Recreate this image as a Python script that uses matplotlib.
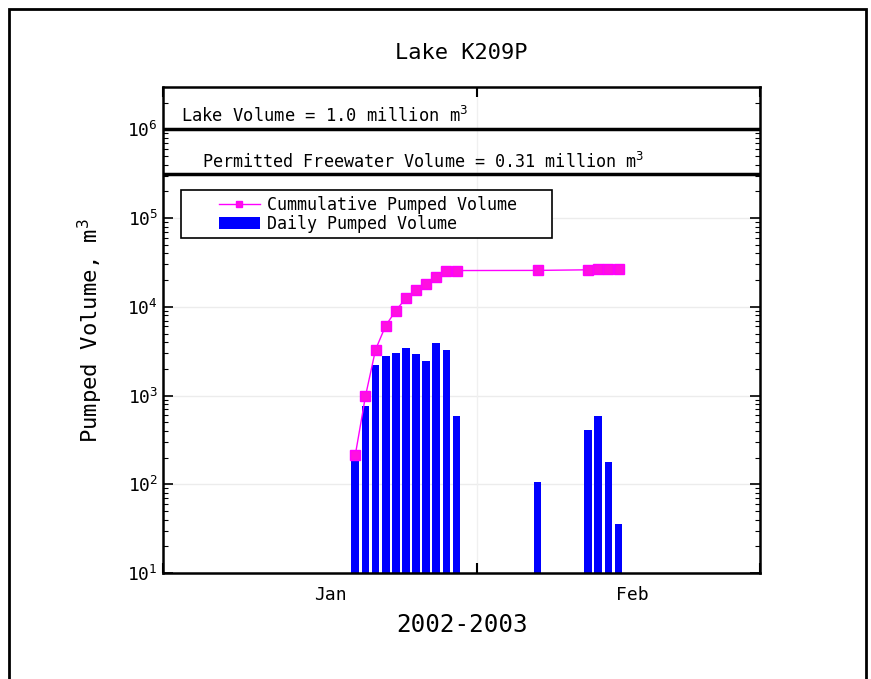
import numpy as np
import pandas as pd
import matplotlib
matplotlib.use("Agg")
import matplotlib.pyplot as plt
import matplotlib.dates as mdates
from matplotlib.patches import Rectangle

# ============================
# Pumping record, Lake K209P
# ============================
pump_dates = ["2003-01-20", "2003-01-21", "2003-01-22", "2003-01-23", "2003-01-24",
              "2003-01-25", "2003-01-26", "2003-01-27", "2003-01-28", "2003-01-29",
              "2003-01-30", "2003-02-07", "2003-02-12", "2003-02-13", "2003-02-14",
              "2003-02-15"]
daily_volume = [192, 754, 2230, 2760, 3020, 3440, 2940, 2470, 3870, 3290,
                596, 107, 408, 581, 179, 36]
cumulative_volume = [214, 977, 3290, 6130, 9060, 12500, 15400, 17900, 21800, 25000,
                     25600, 25700, 26100, 26700, 26850, 26900]

lake_volume = 1.0e6
permitted_volume = 0.31e6

month_labels = ["Jan", "Feb"]
month_label_dates = ["2003-01-17 12:00", "2003-02-16 09:00"]

dates = pd.to_datetime(pump_dates)
mono = "DejaVu Sans Mono"

fig = plt.figure(figsize=(8.71, 6.79), dpi=100)
ax = fig.add_axes([0.187, 0.156, 0.686, 0.716])

# outer frame around the page
fig.patches.append(Rectangle((0.010, -0.05), 0.984, 1.037, transform=fig.transFigure,
                             fill=False, edgecolor="black", linewidth=2.0))

ax.set_yscale("log")
ax.set_ylim(10, 3.0e6)
ax.set_xlim(pd.Timestamp("2003-01-01"), pd.Timestamp("2003-03-01"))

# faint grid
for v in [1e2, 1e3, 1e4, 1e5]:
    ax.axhline(v, color="#ececec", linewidth=1.0, zorder=0)
ax.axvline(pd.Timestamp("2003-02-01"), color="#f0f0f0", linewidth=1.0, zorder=0)

ax.bar(dates, daily_volume, width=0.76, color="#0000ff", edgecolor="none",
       label="Daily Pumped Volume", zorder=2)
ax.plot(dates, cumulative_volume, color="#ff00ff", linewidth=1.0, marker="s",
        markersize=6.5, markeredgecolor="#ff00ff", markerfacecolor="#ff10e0",
        label="Cummulative Pumped Volume", zorder=3)

# volume limits
ax.axhline(lake_volume, color="black", linewidth=2.5, zorder=4)
ax.axhline(permitted_volume, color="black", linewidth=2.5, zorder=4)
ax.text(0.031, 1.40e6, "Lake Volume = 1.0 million m$^3$", transform=ax.get_yaxis_transform(),
        fontsize=12.3, family=mono, va="center", ha="left")
ax.text(0.065, 4.25e5, "Permitted Freewater Volume = 0.31 million m$^3$",
        transform=ax.get_yaxis_transform(), fontsize=12.1, family=mono,
        va="center", ha="left")

# axes styling
ax.xaxis.set_major_locator(mdates.MonthLocator())
ax.xaxis.set_major_formatter(plt.NullFormatter())
ax.set_xticks(pd.to_datetime(month_label_dates), minor=True)
ax.set_xticklabels(month_labels, minor=True, family=mono, fontsize=13)
ax.tick_params(axis="x", which="major", direction="in", length=7, width=1.5,
               top=True, bottom=True)
ax.tick_params(axis="x", which="minor", length=0, pad=9)
ax.tick_params(axis="y", which="major", direction="in", length=7, width=1.2,
               left=True, right=True, labelsize=13)
ax.tick_params(axis="y", which="minor", direction="in", length=3.5, width=0.8,
               left=True, right=True)
for lab in ax.get_yticklabels():
    lab.set_family(mono)
for side in ax.spines.values():
    side.set_linewidth(1.8)

ax.set_ylabel("Pumped Volume, m$^3$", family=mono, fontsize=16, labelpad=16)
ax.set_xlabel("2002-2003", family=mono, fontsize=17.5, labelpad=7)
ax.set_title("Lake K209P", family=mono, fontsize=15.8, pad=20)

# legend with its own box drawn separately (wide padding on both sides)
ax.add_patch(Rectangle((0.030, 0.689), 0.622, 0.099, transform=ax.transAxes,
                       facecolor="white", edgecolor="black", linewidth=1.2, zorder=5))
leg = ax.legend(loc="upper left", bbox_to_anchor=(0.094, 0.776), frameon=False,
                borderaxespad=0, borderpad=0, prop={"family": mono, "size": 12},
                handlelength=2.45, labelspacing=0.08, handletextpad=0.42,
                markerscale=0.7)
leg.set_zorder(6)

fig.savefig("out.png", dpi=100)
